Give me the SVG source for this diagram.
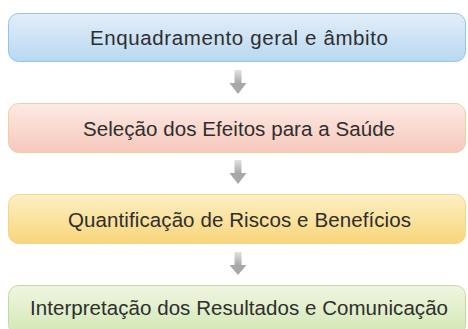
<svg xmlns="http://www.w3.org/2000/svg" width="468" height="329" viewBox="0 0 468 329">
<defs>
<linearGradient id="gBlue" x1="0" y1="0" x2="0" y2="1"><stop offset="0" stop-color="#e3eef9"/><stop offset="1" stop-color="#b8d8f1"/></linearGradient>
<linearGradient id="gPink" x1="0" y1="0" x2="0" y2="1"><stop offset="0" stop-color="#fdeae5"/><stop offset="1" stop-color="#f6c8bb"/></linearGradient>
<linearGradient id="gYellow" x1="0" y1="0" x2="0" y2="1"><stop offset="0" stop-color="#fdf0c4"/><stop offset="1" stop-color="#f8d57a"/></linearGradient>
<linearGradient id="gGreen" x1="0" y1="0" x2="0" y2="1"><stop offset="0" stop-color="#f0f6e2"/><stop offset="1" stop-color="#d3e7b4"/></linearGradient>
<linearGradient id="gArrow" x1="0" y1="0" x2="0" y2="1"><stop offset="0" stop-color="#e2e2e2"/><stop offset="1" stop-color="#a9a9a9"/></linearGradient>
</defs>
<style>
.lbl{font-family:"Liberation Sans",Arial,sans-serif;font-size:20.5px;fill:#2e2e2e;text-anchor:middle}
.arr{fill:url(#gArrow)}
.head{fill:#a8a8a8}
</style>
<g id="connectors">
<g id="arrow1"><rect class="arr" x="234.5" y="70" width="7" height="13"/><polygon class="head" points="229.5,83 246.5,83 238,94"/></g>
<g id="arrow2"><rect class="arr" x="234.5" y="160" width="7" height="13"/><polygon class="head" points="229.5,173 246.5,173 238,184"/></g>
<g id="arrow3"><rect class="arr" x="234.5" y="252" width="7" height="13"/><polygon class="head" points="229.5,265 246.5,265 238,275"/></g>
</g>
<g id="node1">
<rect x="8.5" y="13.5" width="457" height="48" rx="10" fill="url(#gBlue)" stroke="#8fc6ea" stroke-width="1"/>
<text class="lbl" x="239" y="45" textLength="298" lengthAdjust="spacing">Enquadramento geral e âmbito</text>
</g>
<g id="node2">
<rect x="8.5" y="103.5" width="457" height="49" rx="10" fill="url(#gPink)" stroke="#f1cf9e" stroke-width="1"/>
<text class="lbl" x="239" y="136" textLength="312" lengthAdjust="spacing">Seleção dos Efeitos para a Saúde</text>
</g>
<g id="node3">
<rect x="8.5" y="194.5" width="457" height="49" rx="10" fill="url(#gYellow)" stroke="#f2d58e" stroke-width="1"/>
<text class="lbl" x="239.5" y="227" textLength="343" lengthAdjust="spacing">Quantificação de Riscos e Benefícios</text>
</g>
<g id="node4">
<rect x="8.5" y="285.5" width="457" height="49" rx="10" fill="url(#gGreen)" stroke="#c2dc98" stroke-width="1"/>
<text class="lbl" x="239" y="315" textLength="418" lengthAdjust="spacing">Interpretação dos Resultados e Comunicação</text>
</g>
</svg>
